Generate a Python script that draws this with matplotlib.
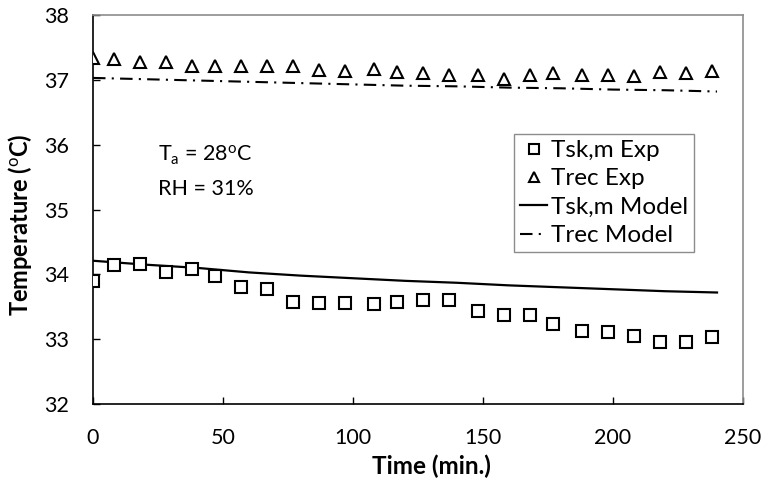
import matplotlib
matplotlib.use("Agg")
import matplotlib.pyplot as plt

plt.rcParams['font.family'] = ['Lato', 'DejaVu Sans']
plt.rcParams['mathtext.fontset'] = 'custom'
plt.rcParams['mathtext.rm'] = 'Lato'
plt.rcParams['mathtext.it'] = 'Lato:italic'
plt.rcParams['mathtext.bf'] = 'Lato:bold'

# measured points (time in min.)
t_exp = [0, 8, 18, 28, 38, 47, 57, 67, 77, 87, 97, 108, 117, 127, 137, 148,
         158, 168, 177, 188, 198, 208, 218, 228, 238]
tsk_exp = [33.89, 34.14, 34.16, 34.03, 34.08, 33.97, 33.81, 33.77, 33.57, 33.56,
           33.56, 33.54, 33.57, 33.60, 33.60, 33.44, 33.38, 33.38, 33.23, 33.12,
           33.11, 33.05, 32.96, 32.96, 33.03]
trec_exp = [37.33, 37.32, 37.27, 37.27, 37.22, 37.22, 37.22, 37.22, 37.22, 37.15,
            37.14, 37.16, 37.12, 37.10, 37.07, 37.07, 37.02, 37.08, 37.10, 37.08,
            37.08, 37.06, 37.12, 37.10, 37.13]

# model curves
t_mod = [0, 20, 40, 60, 80, 100, 120, 140, 160, 180, 200, 220, 240]
tsk_mod = [34.21, 34.15, 34.10, 34.03, 33.98, 33.94, 33.90, 33.87, 33.83,
           33.80, 33.77, 33.74, 33.72]
trec_mod = [37.03, 37.01, 36.99, 36.97, 36.95, 36.93, 36.91, 36.90, 36.88,
            36.87, 36.85, 36.84, 36.82]

fig = plt.figure(figsize=(7.66, 4.8), dpi=100)
ax = fig.add_axes([0.1214, 0.1583, 0.8486, 0.8104])

ax.plot(t_exp, tsk_exp, linestyle='none', marker='s', ms=8, mfc='white',
        mec='black', mew=1.5, label='Tsk,m Exp', zorder=3)
ax.plot(t_exp, trec_exp, linestyle='none', marker='^', ms=8, mfc='white',
        mec='black', mew=1.5, label='Trec Exp', zorder=3)
ax.plot(t_mod, tsk_mod, color='black', lw=1.6, label='Tsk,m Model')
ax.plot(t_mod, trec_mod, color='black', lw=1.5, linestyle=(0, (6, 3, 1, 3)),
        label='Trec Model')

ax.set_xlim(0, 250)
ax.set_ylim(32, 38)
ax.set_xticks([0, 50, 100, 150, 200, 250])
ax.set_yticks([32, 33, 34, 35, 36, 37, 38])
ax.tick_params(direction='in', length=5, width=1, labelsize=15.5, pad=17)

for s in ['top', 'right']:
    ax.spines[s].set_color('#8c8c8c')
    ax.spines[s].set_linewidth(1.2)
for s in ['left', 'bottom']:
    ax.spines[s].set_color('black')
    ax.spines[s].set_linewidth(1.2)

ax.set_xlabel('Time (min.)', fontsize=17.5, fontweight='bold')
ax.set_ylabel('Temperature ($^{\\mathrm{o}}$C)', fontsize=17, fontweight='bold')
ax.xaxis.set_label_coords(0.52, -0.13)
ax.yaxis.set_label_coords(-0.09, 0.46)

ax.text(0.1, 0.623, 'T$_{\\mathrm{a}}$ = 28$^{\\mathrm{o}}$C', transform=ax.transAxes,
        fontsize=15.5, va='baseline')
ax.text(0.1, 0.538, 'RH = 31%', transform=ax.transAxes, fontsize=15.5, va='baseline')

leg = ax.legend(loc='upper left', bbox_to_anchor=(0.648, 0.694), borderaxespad=0,
                fancybox=False, edgecolor='#8c8c8c', fontsize=17.5, handlelength=1.1,
                handletextpad=0.15, labelspacing=0.3, borderpad=0.25, framealpha=1,
                markerscale=0.85)
leg.get_frame().set_linewidth(1.0)

fig.savefig('out.png', dpi=100)
